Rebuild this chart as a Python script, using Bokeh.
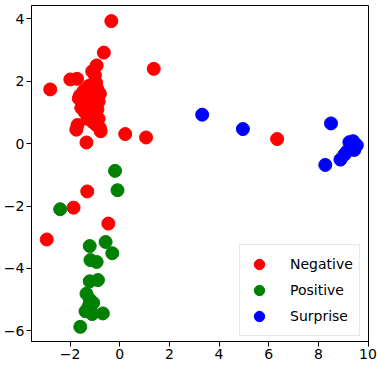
from bokeh.plotting import figure
from bokeh.models import Range1d, FixedTicker, CustomJSTickFormatter, Legend, LegendItem
from bokeh.embed import file_html
from bokeh.resources import INLINE

# ---- data ----
neg_x = [-0.34, -0.64, 1.37, -0.93, -1.11, -1.00, -1.99, -1.72, -2.80,
         -1.60, -1.40, -1.20, -0.90, -0.80, -1.50, -1.30, -1.00, -0.85,
         -1.55, -1.35, -1.10, -0.90, -1.40, -1.20, -1.00, -0.85, -1.30,
         -1.10, -0.95, -0.80, -1.10, -0.95, -1.25, -1.45, -1.65,
         -1.75, -1.70, -0.77, -1.34, 0.22, 1.06,
         -1.31, -1.86, -0.46, -2.94, 6.34]
neg_y = [3.93, 2.92, 2.40, 2.51, 2.32, 2.19, 2.06, 2.08, 1.74,
         1.55, 1.60, 1.70, 1.75, 1.60, 1.35, 1.40, 1.45, 1.35,
         1.15, 1.20, 1.25, 1.10, 1.00, 0.95, 0.90, 0.80, 0.80,
         0.70, 0.60, 0.50, 1.90, 1.95, 1.85, 1.70, 1.45,
         0.45, 0.60, 0.40, 0.04, 0.31, 0.20,
         -1.53, -2.05, -2.56, -3.07, 0.15]

pos_x = [-0.19, -0.09, -2.40, -1.21, -0.57, -0.30, -1.18, -0.93,
         -1.21, -0.88, -1.34, -1.07, -1.25, -1.38, -1.11, -0.68, -1.59,
         -1.18, -1.20]
pos_y = [-0.87, -1.49, -2.10, -3.28, -3.15, -3.51, -3.73, -3.79,
         -4.41, -4.37, -4.81, -5.10, -5.21, -5.37, -5.46, -5.44, -5.87,
         -5.26, -5.00]

sur_x = [3.32, 4.96, 8.51, 8.28, 8.89, 9.25, 9.40, 9.55, 9.30, 9.45,
         9.15, 9.05, 9.35]
sur_y = [0.93, 0.47, 0.65, -0.68, -0.51, 0.05, 0.08, -0.05, -0.10, -0.20,
         -0.25, -0.35, 0.00]

labels = ["Negative", "Positive", "Surprise"]
colors = ["red", "green", "blue"]
x_ticks = [-2, 0, 2, 4, 6, 8, 10]
y_ticks = [-6, -4, -2, 0, 2, 4]

p = figure(width=378, height=368, output_backend="svg", toolbar_location=None,
           x_range=Range1d(-3.555, 10.02), y_range=Range1d(-6.34, 4.43),
           min_border_left=31, min_border_right=10, min_border_top=5,
           min_border_bottom=27)
p.grid.visible = False
p.outline_line_color = "black"
p.outline_line_width = 1

fmt = CustomJSTickFormatter(code="return tick.toString().replace('-', '\\u2212');")
for ax, ticks in ((p.xaxis[0], x_ticks), (p.yaxis[0], y_ticks)):
    ax.ticker = FixedTicker(ticks=ticks)
    ax.formatter = fmt
    ax.minor_tick_line_color = None
    ax.major_tick_out = 5
    ax.major_tick_in = 0
    ax.major_label_standoff = 2
    ax.axis_line_color = "black"
    ax.major_tick_line_color = "black"
    ax.major_label_text_font = "DejaVu Sans"
    ax.major_label_text_font_size = "14px"
    ax.major_label_text_color = "black"

renderers = []
for xs, ys, c in ((neg_x, neg_y, colors[0]), (pos_x, pos_y, colors[1]), (sur_x, sur_y, colors[2])):
    r = p.scatter(xs, ys, size=13, color=c, line_color=c)
    renderers.append(r)

legend = Legend(items=[LegendItem(label=l, renderers=[r]) for l, r in zip(labels, renderers)],
                location=(208, 5))
legend.glyph_height = 26
legend.glyph_width = 26
legend.spacing = 0
legend.padding = 6
legend.label_standoff = 18
legend.label_text_font = "DejaVu Sans"
legend.label_text_font_size = "14px"
legend.label_text_color = "black"
legend.border_line_color = "#d0d0d0"
legend.background_fill_alpha = 0.8
p.add_layout(legend, "center")

open("out.html", "w").write(file_html(p, INLINE))
